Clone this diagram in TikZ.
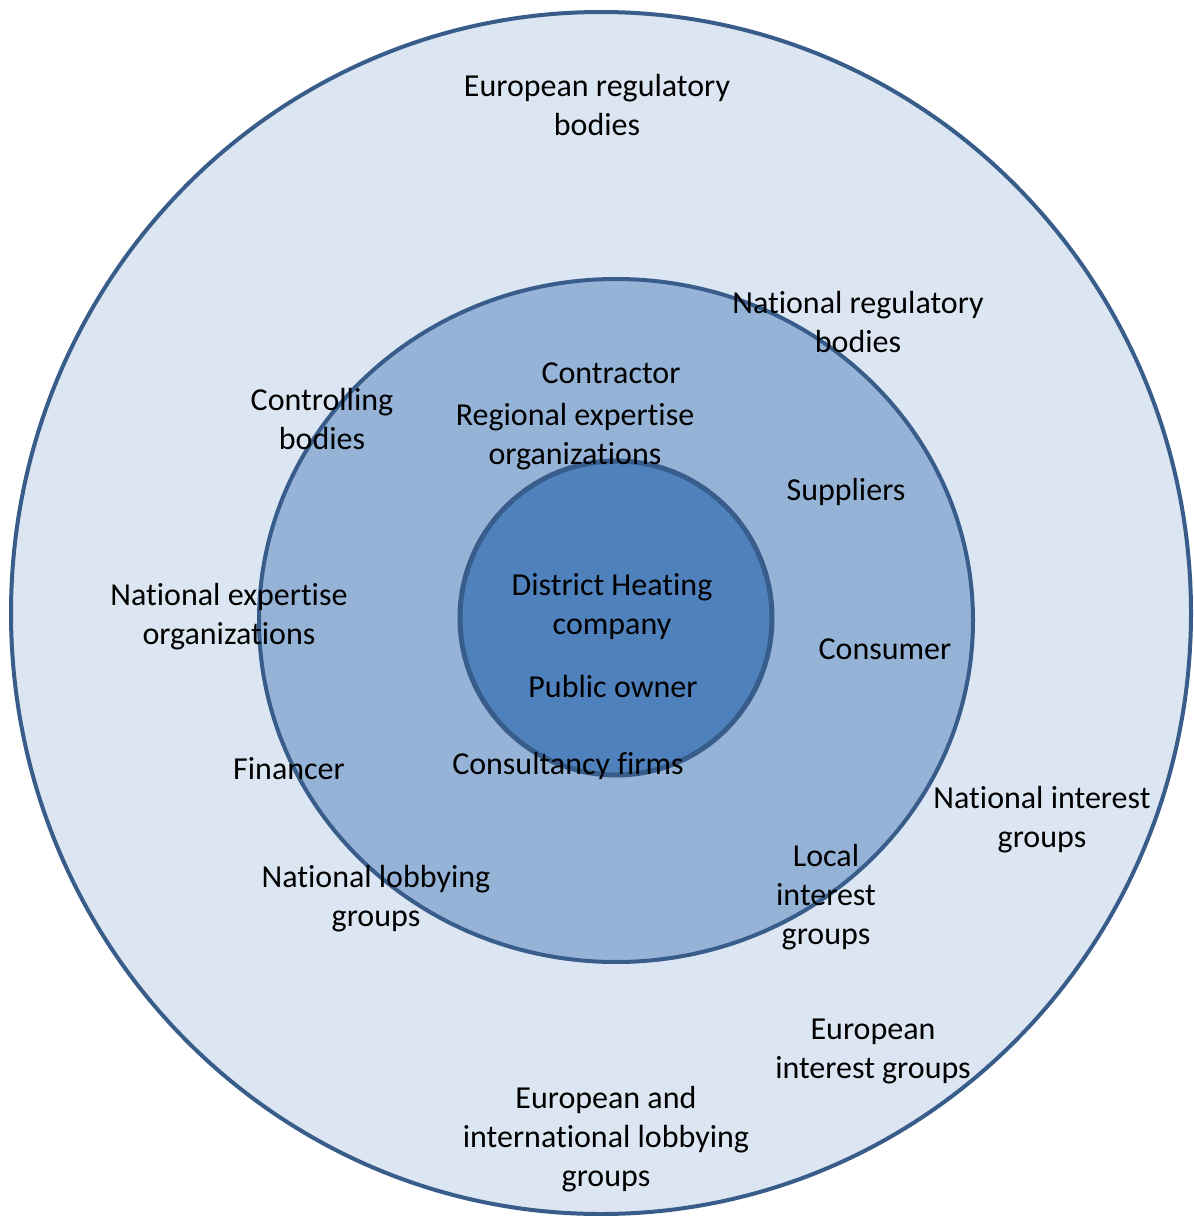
\documentclass[tikz,border=0pt]{standalone}
\usepackage{fontspec}
\setmainfont{Carlito}[Ligatures=NoCommon]

\definecolor{ringline}{HTML}{385D8A}
\definecolor{outerring}{HTML}{DCE6F2}
\definecolor{middlering}{HTML}{95B3D7}
\definecolor{innerring}{HTML}{4F81BD}

\begin{document}
\begin{tikzpicture}
	[x=1pt,y=-1pt,every node/.style={align=center,font=\fontsize{32}{39}\selectfont}]
	\useasboundingbox (0,0) rectangle (1194,1216);
	
	\foreach \cx/\cy/\rx/\ry/\fillc/\lw in
		{601/613/590/601/outerring/4, 616/620.5/357/341.5/middlering/4, 616/618/156/157/innerring/5}
	\draw[draw=ringline,fill=\fillc,line width=\lw pt] (\cx,\cy) ellipse [x radius=\rx, y radius=\ry];
	
	\node (eureg) at (597,105) {European regulatory\\bodies};
	\node (natreg) at (858,322) {National regulatory\\bodies};
	\node (ctrl) at (322,419) {Controlling\\bodies};
	\node (contr) at (611,373) {Contractor};
	\node (regexp) at (575,437) {Regional expertise\\organizations};
	\node (suppl) at (846,492) {Suppliers};
	\node (natexp) at (229,617) {National expertise\\organizations};
	\node (dhc) at (612,607) {District Heating\\company};
	\node (owner) at (613,686) {Public owner};
	\node (cons) at (885,649) {Consumer};
	\node (fin) at (289,769) {Financer};
	\node (consult) at (568,766) {Consultancy firms};
	\node (natint) at (1042,820) {National interest\\groups};
	\node (locint) at (826,897) {Local\\interest\\groups};
	\node (natlob) at (376,899) {National lobbying\\groups};
	\node (euint) at (873,1051) {European\\interest groups};
	\node (eulob) at (606,1139) {European and\\international lobbying\\groups};
\end{tikzpicture}
\end{document}
